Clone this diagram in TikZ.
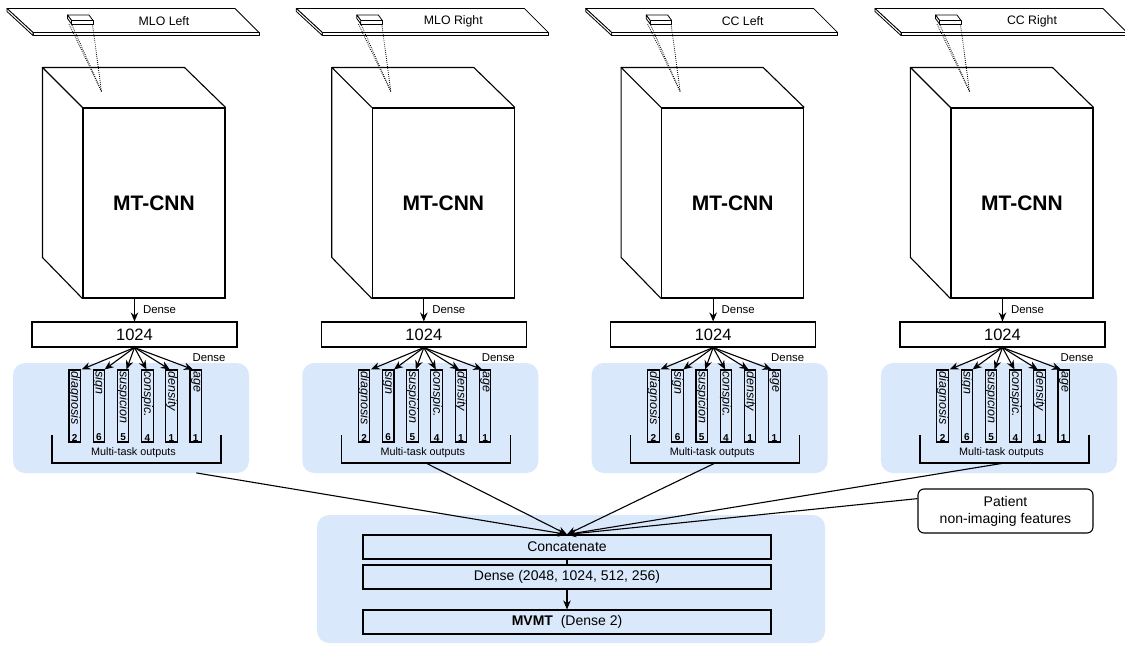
\documentclass[tikz,border=0pt]{standalone}
\usepackage{fontspec}
\setmainfont{Liberation Sans}
\usetikzlibrary{arrows.meta,calc}
\definecolor{panelblue}{HTML}{DAE8FC}
\tikzset{
  panel/.style={fill=panelblue, rounded corners=12pt, inner sep=0pt, draw=none},
  slab/.style={fill=white, draw, line width=0.8pt, line join=round},
  frontface/.style={draw, fill=white, inner sep=0pt, minimum width=142pt, minimum height=190pt,
    font=\fontsize{21}{25}\selectfont\bfseries},
  layerbox/.style={draw, fill=white, inner sep=0pt, minimum width=205pt, minimum height=25pt,
    font=\fontsize{16.5}{20}\selectfont},
  outbar/.style={draw, inner sep=0pt, minimum width=11.5pt, minimum height=72pt},
  outname/.style={rotate=-90, anchor=west, inner sep=1.5pt, font=\fontsize{12.5}{15}\selectfont\itshape},
  outnum/.style={anchor=south, inner sep=1pt, font=\fontsize{10}{12}\selectfont\bfseries},
  smalltxt/.style={inner sep=0pt, font=\fontsize{11.4}{13}\selectfont},
  viewlabel/.style={inner sep=0pt, font=\fontsize{12.3}{15}\selectfont},
  widebox/.style={draw, inner sep=0pt, minimum width=408pt, minimum height=24pt,
    font=\fontsize{14}{17}\selectfont},
  arr/.style={-{Stealth[length=9pt,width=7.5pt]}},
  dotline/.style={line width=0.8pt, dash pattern=on 0.8pt off 1.2pt},
}
\begin{document}
\begin{tikzpicture}[x=1pt,y=-1pt,line width=1.1pt]
\useasboundingbox (0,0) rectangle (1125,645);

% shaded panels behind the output heads and the fusion head
\foreach \i in {0,...,3}
  \node[panel, minimum width=236pt, minimum height=110pt] (panel\i) at (131+289.33*\i,418) {};
\node[panel, minimum width=508pt, minimum height=128pt] (fusepanel) at (571,579) {};

% one single-view network per mammographic view
\foreach \i/\view in {0/MLO Left,1/MLO Right,2/CC Left,3/CC Right}{
\begin{scope}[xshift=289.33*\i]
  % image plane seen in perspective
  \filldraw[slab] (7,8.5) -- (235,8.5) -- (259,32.5) -- (33,32.5) -- cycle;
  \filldraw[slab] (33,32.5) -- (259,32.5) -- (259,35.5) -- (33,35.5) -- cycle;
  \filldraw[slab] (7,8.5) -- (33,32.5) -- (33,35.5) -- (7,11.5) -- cycle;
  \node[viewlabel] (view\i) at (164,21) {\view};
  % image patch on the plane
  \filldraw[slab] (67.5,15) -- (89,15) -- (93,20.5) -- (71.5,20.5) -- cycle;
  \filldraw[slab] (71.5,20.5) -- (93,20.5) -- (93,24) -- (71.5,24) -- cycle;
  \filldraw[slab] (67.5,15) -- (71.5,20.5) -- (71.5,24) -- (67.5,18.5) -- cycle;
  % the CNN block
  \node[frontface] (cnn\i) at (154,203) {MT-CNN};
  \draw[line join=round] (cnn\i.north west) -- ++(-40,-40) -- ++(142,0) -- (cnn\i.north east);
  \draw ($(cnn\i.north west)+(-40,-40)$) -- ++(0,190) -- (cnn\i.south west);
  % receptive field projected onto the block
  \coordinate (focus\i) at (101.5,91.5);
  \draw[dotline] (69,24) -- (focus\i);
  \draw[dotline] (72,25) -- (focus\i);
  \draw[dotline] (92.5,24.5) -- (focus\i);
  % shared dense layer
  \node[layerbox] (fc\i) at (134.5,334.5) {1024};
  \draw[arr] (cnn\i.south -| fc\i.north) -- (fc\i.north)
    node[smalltxt, midway, anchor=west, xshift=8pt] {Dense};
  \node[smalltxt, anchor=west] (dense\i) at ($(fc\i.south)+(57.5,10)$) {Dense};
  % task-specific outputs
  \foreach \k/\task/\n/\dx in {0/diagnosis/2/7,1/sign/6/5.7,2/suspicion/5/3.4,
                               3/conspic./4/-0.8,4/density/1/-1.8,5/age/1/-2.8}{
    \node[outbar] (bar\i-\k) at (74.7+24.2*\k,406) {};
    \node[outname] (task\i-\k) at (bar\i-\k.north) {\task};
    \node[outnum] (num\i-\k) at (bar\i-\k.south) {\n};
    \draw[arr] (fc\i.south) -- ($(bar\i-\k.north)+(\dx,0)$);
  }
  % bracket grouping the outputs
  \coordinate (brk\i) at (136.5,463);
  \draw (52,435) |- (brk\i) -| (221,435);
  \node[inner sep=0pt, font=\fontsize{10.8}{13}\selectfont] (mto\i) at (133.5,453) {Multi-task outputs};
\end{scope}
}

% fusion head
\node[widebox] (concat) at (567,547) {Concatenate};
\node[widebox] (dense) at (567,577) {Dense (2048, 1024, 512, 256)};
\node[widebox] (mvmt) at (567,622) {\textbf{MVMT}~~(Dense 2)};
\draw (concat) -- (dense);
\draw[arr] (dense) -- (mvmt);

% clinical side information
\node[draw, fill=white, rounded corners=6pt, minimum width=175pt, minimum height=44pt,
      align=center, inner sep=0pt, font=\fontsize{14}{17}\selectfont] (patient)
      at (1005.5,511) {Patient\\non-imaging features};

% all views and the patient features feed the concatenation
\path (brk0) -- (concat.north) coordinate[pos=0.139] (src0);
\draw[arr] (src0) -- (concat.north);
\foreach \i in {1,2,3} \draw[arr] (brk\i) -- (concat.north);
\draw[arr] (patient.172) -- (concat.north);
\end{tikzpicture}
\end{document}
